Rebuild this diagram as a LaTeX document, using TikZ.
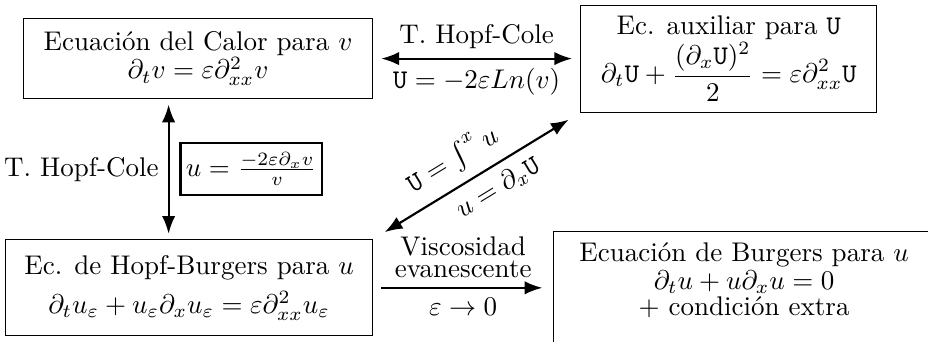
\documentclass[tikz,border=0pt]{standalone}
\usepackage{amsmath,amssymb}
\usepackage{tikz}
\usetikzlibrary{arrows.meta,positioning}

\begin{document}
\begin{tikzpicture}[>=Latex, node distance=6mm,
  r/.style={rectangle, draw, align=center, inner sep=4pt},
  s/.style={rectangle, draw, inner xsep=2pt, inner ysep=3.5pt},
  a/.style={<->, thick, shorten <=3pt, shorten >=3pt}]
  % the four equations
  \node[r, minimum width=129.3pt, minimum height=29.6pt] (calor)
    {Ecuación del Calor para $v$\\[-1.5pt] $\partial_t v=\varepsilon\partial^2_{xx}v$};
  \node[r, right=76.7pt of calor, minimum width=109.6pt, minimum height=39.6pt] (aux)
    {Ec. auxiliar para $\mathtt{U}$\\
     $\displaystyle\partial_t\mathtt{U}+\frac{(\partial_x\mathtt{U})^2}{2}=\varepsilon\partial^2_{xx}\mathtt{U}$};
  \node[r, below=51.9pt of calor.south east, anchor=north east,
        minimum width=135.9pt, minimum height=35.6pt] (hb)
    {Ec. de Hopf-Burgers para $u$\\[2.5pt]
     $\partial_t u_\varepsilon+u_\varepsilon\partial_x u_\varepsilon=\varepsilon\partial^2_{xx}u_\varepsilon$};
  \useasboundingbox ([shift={(-8.5pt,6.7pt)}]calor.north west) rectangle ++(343.7pt,-126.3pt);
  \node[r, right=66.7pt of hb.north east, anchor=north west, yshift=3pt,
        minimum width=141pt, text depth=12pt] (burg)
    {Ecuación de Burgers para $u$\\[-1.5pt] $\partial_t u+u\partial_x u=0$\\[-2.3pt] $+$ condición extra};
  % transformations
  \draw[a] (calor) -- node[above] (hc1) {T. Hopf-Cole}
    node[below] (lnv) {$\mathtt{U}=-2\varepsilon Ln(v)$} (aux);
  \path ([xshift=-10.9pt]calor.south) coordinate (vt);
  \draw[a, shorten <=2pt, shorten >=2pt] (vt) -- node[left] (hc2) {T. Hopf-Cole}
    node[s, right=4pt] (uv) {$u=\frac{-2\varepsilon\partial_x v}{v}$} (vt |- hb.north);
  \draw[a, shorten <=5pt, shorten >=5pt] (hb.north east) --
    node[sloped, above, pos=0.45] (intu) {$\mathtt{U}=\int^x u$}
    node[sloped, below, pos=0.55] (dxu) {$u=\partial_x\mathtt{U}$} (aux.south west);
  \draw[->, thick, shorten <=3pt, shorten >=4pt] (hb.east) --
    node[above, align=center] (visc) {Viscosidad\\[-4pt] evanescente}
    node[below] (lim) {$\varepsilon\to0$} (hb.east -| burg.west);
\end{tikzpicture}
\end{document}
